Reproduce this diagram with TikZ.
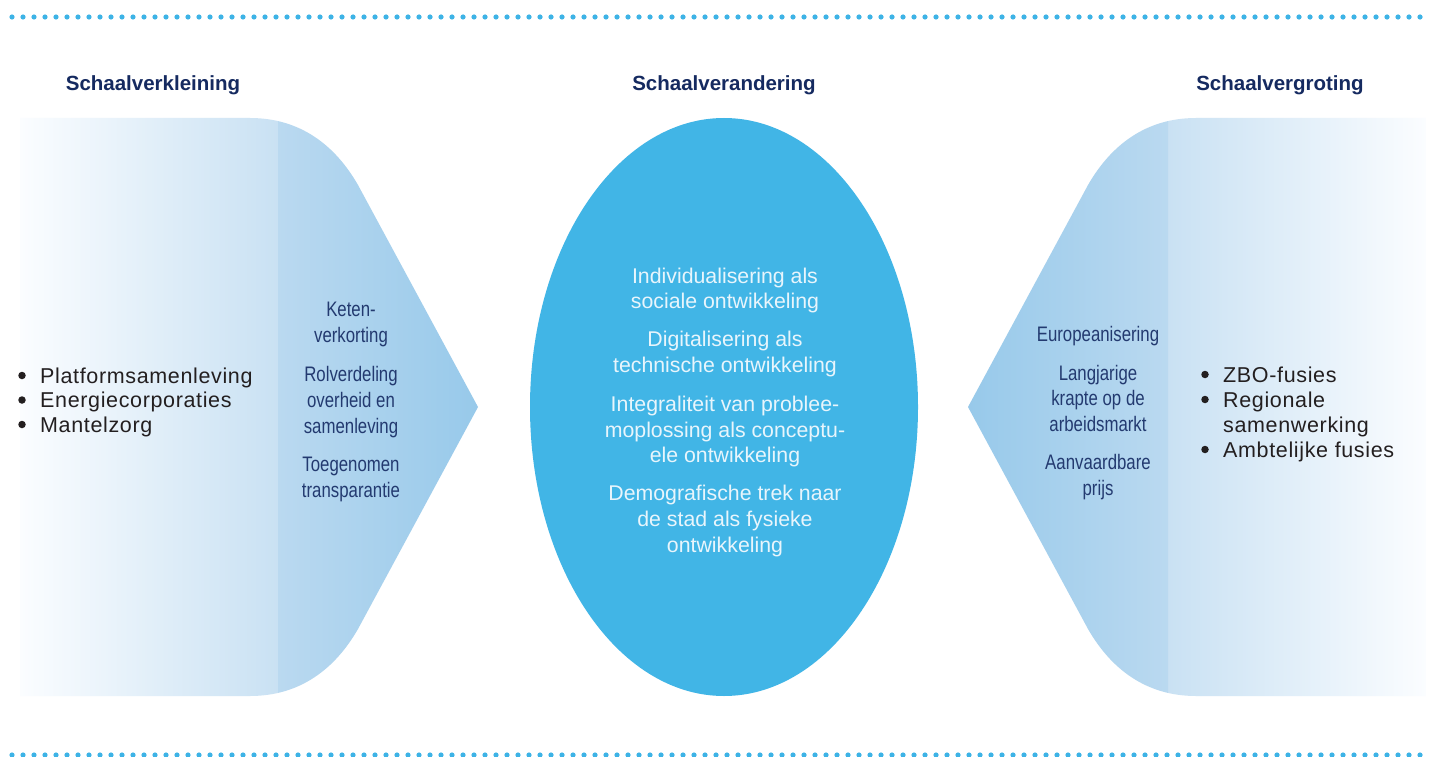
\documentclass[tikz,border=0pt]{standalone}
\usepackage{fontspec}
\setmainfont{Liberation Sans}
\newfontfamily\condfont{Liberation Sans}[FakeStretch=0.80]
\newfontfamily\spacedfont{Liberation Sans}[LetterSpace=3]
\usetikzlibrary{shapes.geometric}
\definecolor{dotc}{HTML}{3DB3E6}
\definecolor{ellc}{HTML}{41B5E6}
\definecolor{headc}{HTML}{152A60}
\definecolor{sidec}{HTML}{233A70}
\definecolor{bulc}{HTML}{231F20}
\definecolor{ellt}{HTML}{E8F5FC}
\definecolor{fadeA}{HTML}{FBFDFF}
\definecolor{fadeB}{HTML}{C9E1F3}
\definecolor{fadeC}{HTML}{BAD9F0}
\definecolor{fadeD}{HTML}{97C9EA}
\begin{document}
\begin{tikzpicture}[x=1pt,y=-1pt,
  heading/.style={anchor=base, text=headc, font=\bfseries\fontsize{20.5}{24}\selectfont, inner sep=0},
  bullettxt/.style={anchor=base west, text=bulc, font=\spacedfont\fontsize{21.5}{25}\selectfont, inner sep=0},
  bulletdot/.style={circle, fill=bulc, minimum size=7.5pt, inner sep=0},
  sidetxt/.style={anchor=base, text=sidec, font=\condfont\fontsize{21}{25}\selectfont, inner sep=0},
  elltxt/.style={anchor=base, text=ellt, font=\fontsize{21.3}{26}\selectfont, inner sep=0}]
\useasboundingbox (0,0) rectangle (1435,757);
\fill[white] (0,0) rectangle (1435,757);
% dotted rules
\foreach \i in {0,...,128} {
  \fill[dotc] (12+\i*11,17) circle (2.6pt);
  \fill[dotc] (12+\i*11,755) circle (2.6pt);
}
% left shape
\begin{scope}
  \clip (20,118) -- (250,118) .. controls (300,118) and (335,145) .. (358,185)
     -- (478,407) -- (358,629) .. controls (335,669) and (300,696) .. (250,696)
     -- (20,696) -- cycle;
  \shade[left color=fadeA, right color=fadeB] (20,110) rectangle (278.5,700);
  \shade[left color=fadeC, right color=fadeD] (278,110) rectangle (480,700);
\end{scope}
% right shape
\begin{scope}
  \clip (1426,118) -- (1196,118) .. controls (1146,118) and (1111,145) .. (1088,185)
     -- (968,407) -- (1088,629) .. controls (1111,669) and (1146,696) .. (1196,696)
     -- (1426,696) -- cycle;
  \shade[left color=fadeB, right color=fadeA] (1167.5,110) rectangle (1426,700);
  \shade[left color=fadeD, right color=fadeC] (966,110) rectangle (1168,700);
\end{scope}
% central ellipse
\node[ellipse, fill=ellc, draw=none, minimum width=388pt, minimum height=578pt, inner sep=0] (ell) at (724,407) {};
% headings
\node[heading] (h1) at (153,91) {Schaalverkleining};
\node[heading] (h2) at (724,91) {Schaalverandering};
\node[heading] (h3) at (1280,91) {Schaalvergroting};
% left bullets
\foreach \yy/\txt [count=\i] in {383/Platformsamenleving, 407.5/Energiecorporaties, 432/Mantelzorg} {
  \node[bulletdot] (lb\i) at (22,\yy-7.5) {};
  \node[bullettxt] (lt\i) at (40,\yy) {\txt};
}
% right bullets
\node[bulletdot] (rb1) at (1205,374.5) {};
\node[bullettxt] (rt1) at (1223,382) {ZBO-fusies};
\node[bulletdot] (rb2) at (1205,399.5) {};
\node[bullettxt] (rt2) at (1223,407) {Regionale};
\node[bullettxt] (rt3) at (1223,432) {samenwerking};
\node[bulletdot] (rb4) at (1205,449.5) {};
\node[bullettxt] (rt4) at (1223,457) {Ambtelijke fusies};
% left side texts
\foreach \yy/\txt [count=\i] in {316/Keten-, 342/verkorting, 381/Rolverdeling, 407/overheid en, 433/samenleving, 471/Toegenomen, 497/transparantie} {
  \node[sidetxt] (ls\i) at (351,\yy) {\txt};
}
% right side texts
\foreach \yy/\txt [count=\i] in {341/Europeanisering, 380/Langjarige, 405/krapte op de, 431/arbeidsmarkt, 469/Aanvaardbare, 495/prijs} {
  \node[sidetxt] (rs\i) at (1098,\yy) {\txt};
}
% ellipse texts
\foreach \yy/\txt [count=\i] in {283/Individualisering als, 308.5/sociale ontwikkeling, 346/Digitalisering als, 372/technische ontwikkeling, 411/Integraliteit van problee-, 437/moplossing als conceptu-, 462/ele ontwikkeling, 500/Demografische trek naar, 526/de stad als fysieke, 552/ontwikkeling} {
  \node[elltxt] (et\i) at (725,\yy) {\txt};
}
\end{tikzpicture}
\end{document}
